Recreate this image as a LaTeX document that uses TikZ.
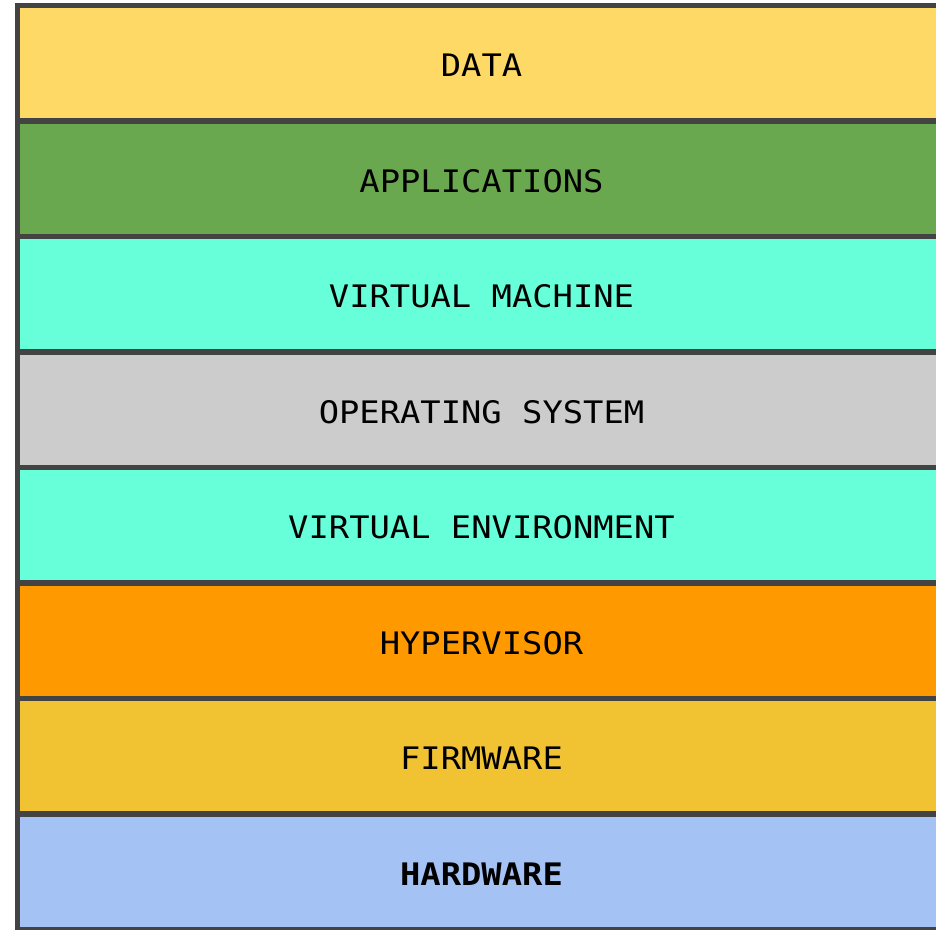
\documentclass[tikz,border=0pt]{standalone}
\usepackage{fontspec}
\setmonofont[FakeStretch=1.09]{DejaVu Sans Mono}
\definecolor{edgegray}{HTML}{434343}
\definecolor{datacol}{HTML}{FFD966}
\definecolor{appcol}{HTML}{6AA84F}
\definecolor{virtcol}{HTML}{66FFDA}
\definecolor{oscol}{HTML}{CCCCCC}
\definecolor{hypercol}{HTML}{FF9900}
\definecolor{firmcol}{HTML}{F1C232}
\definecolor{hardcol}{HTML}{A4C2F4}
\tikzset{
  layer/.style={draw=edgegray, line width=5.5pt, rectangle, inner sep=0pt,
    minimum width=928pt, minimum height=115.5pt,
    text height=27pt, text depth=0pt,
    font=\ttfamily\fontsize{31}{38}\selectfont}
}
\begin{document}
\begin{tikzpicture}[x=1pt,y=-1pt]
			\useasboundingbox (0,0) rectangle (936,929);
			\node[layer, fill=datacol]  (data) at (481.5,63.25)  {DATA};
			\node[layer, fill=appcol]   (apps) at (481.5,178.75) {APPLICATIONS};
			\node[layer, fill=virtcol]  (vm)   at (481.5,294.25) {VIRTUAL MACHINE};
			\node[layer, fill=oscol]    (os)   at (481.5,409.75) {OPERATING SYSTEM};
			\node[layer, fill=virtcol]  (venv) at (481.5,525.25) {VIRTUAL ENVIRONMENT};
			\node[layer, fill=hypercol] (hyp)  at (481.5,640.75) {HYPERVISOR};
			\node[layer, fill=firmcol]  (firm) at (481.5,756.25) {FIRMWARE};

			\node[layer, fill=hardcol]  (hw)   at (481.5,871.75) {\bfseries HARDWARE};
			\end{tikzpicture}
\end{document}
